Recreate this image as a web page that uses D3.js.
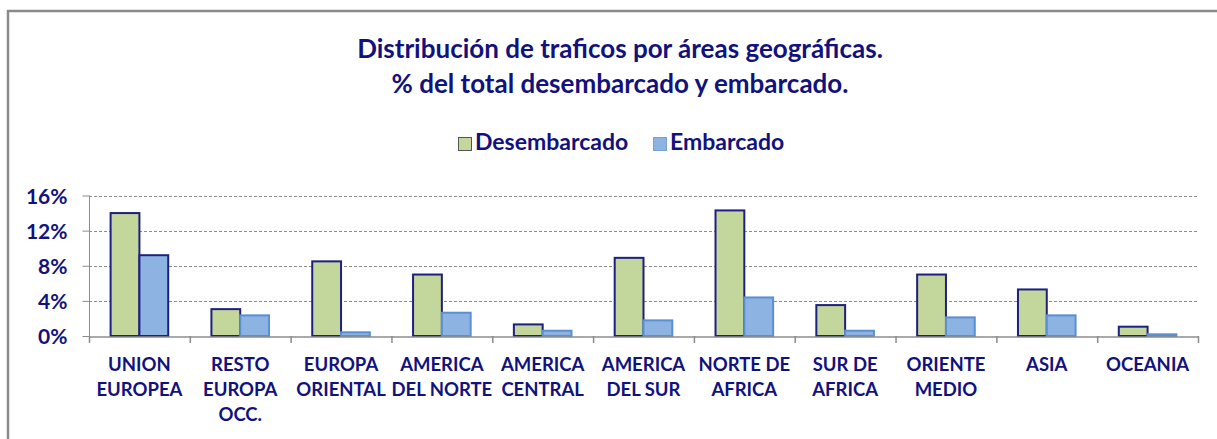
<!DOCTYPE html>
<html><head><meta charset="utf-8">
<script src="https://cdn.jsdelivr.net/npm/d3@7"></script>
<style>
body{margin:0;background:#fff;}
svg{display:block;}
text{font-family:Lato,"Open Sans",sans-serif;font-weight:bold;fill:#12127d;}
</style></head><body>
<svg id="c" width="1217" height="439"></svg>
<script>
const categories = ["UNION\nEUROPEA","RESTO\nEUROPA\nOCC.","EUROPA\nORIENTAL","AMERICA\nDEL NORTE","AMERICA\nCENTRAL","AMERICA\nDEL SUR","NORTE DE\nAFRICA","SUR DE\nAFRICA","ORIENTE\nMEDIO","ASIA","OCEANIA"];
const desembarcado = [14.0, 3.06, 8.5, 7.0, 1.32, 8.9, 14.3, 3.52, 7.0, 5.3, 1.06];
const embarcado = [9.2, 2.35, 0.42, 2.65, 0.6, 1.78, 4.39, 0.6, 2.12, 2.35, 0.19];
const seriesNames = ["Desembarcado","Embarcado"];
const yTicks = [0, 4, 8, 12, 16];
const titleLines = ["Distribución de traficos por áreas geográficas.","% del total desembarcado y embarcado."];

const svg = d3.select("#c");
const fills = ["#c3d69b","#8db3e2"];
const strokes = ["#1f1f80","#5a8fd3"];
const navy = "#12127d";

// outer frame
svg.append("rect").attr("x",8).attr("y",11).attr("width",1230).attr("height",460)
  .attr("fill","none").attr("stroke","#8a8a8a").attr("stroke-width",2.5);

const L = 89, R = 1198, T = 195.5, B = 336;
const x = d3.scaleBand().domain(categories).range([L,R]).paddingInner(0).paddingOuter(0);
const x1 = d3.scaleBand().domain(seriesNames).range([0,x.bandwidth()]).paddingInner(0).paddingOuter(0.75);
const y = d3.scaleLinear().domain([0,16]).range([B,T]);

// gridlines
svg.append("g").selectAll("line").data(yTicks.filter(d=>d>0)).join("line")
  .attr("x1",L).attr("x2",R).attr("y1",d=>Math.round(y(d))+0.5).attr("y2",d=>Math.round(y(d))+0.5)
  .attr("stroke","#8c8c8c").attr("stroke-width",1).attr("stroke-dasharray","3,2");

// y axis
const yAxis = d3.axisLeft(y).tickValues(yTicks).tickSize(7).tickFormat(d=>d+"%");
const gy = svg.append("g").attr("transform",`translate(${L+0.5},0)`).call(yAxis);
gy.select(".domain").attr("stroke","#8c8c8c").attr("d",`M0,${T}V${B}`);
gy.selectAll(".tick line").attr("stroke","#8c8c8c");
gy.selectAll(".tick text").attr("x",-22).attr("dy","0.36em").style("font-size","21px").style("font-family","Lato, sans-serif").style("font-weight","bold").attr("fill",navy);

// bars
const data = categories.map((c,i)=>({c, vals:[desembarcado[i], embarcado[i]]}));
const g = svg.append("g");
data.forEach((d,i)=>{
  d.vals.forEach((v,j)=>{
    g.append("rect")
      .attr("x", x(d.c)+x1(seriesNames[j]))
      .attr("y", y(v))
      .attr("width", x1.bandwidth())
      .attr("height", B - y(v))
      .attr("fill", fills[j])
      .attr("stroke", (j===0 || i===0) ? strokes[0] : strokes[1])
      .attr("stroke-width", 2);
  });
});

// x axis
const xAxis = d3.axisBottom(x).tickSize(0).tickFormat("");
const gx = svg.append("g").attr("transform",`translate(0,${B+0.5})`).call(xAxis);
gx.select(".domain").attr("stroke","#8c8c8c").attr("stroke-width",1.5);
const bounds = categories.map(c=>x(c)).concat([R]);
svg.append("g").selectAll("line").data(bounds).join("line")
  .attr("x1",d=>d+0.5).attr("x2",d=>d+0.5).attr("y1",B).attr("y2",B+7)
  .attr("stroke","#8c8c8c").attr("stroke-width",1.5);

// category labels
const lab = svg.append("g");
categories.forEach(c=>{
  const t = lab.append("text").attr("text-anchor","middle").style("font-size","18.5px");
  c.split("\n").forEach((ln,k)=>{
    t.append("tspan").attr("x", x(c)+x.bandwidth()/2).attr("y", 371 + k*25).text(ln);
  });
});

// title
titleLines.forEach((ln,k)=>{
  svg.append("text").attr("x",620).attr("y",58+k*35).attr("text-anchor","middle")
    .style("font-size","26px").text(ln);
});

// legend
const legX = [458, 653];
seriesNames.forEach((s,j)=>{
  svg.append("rect").attr("x",legX[j]+0.5).attr("y",137.5).attr("width",13).attr("height",13)
    .attr("fill",fills[j]).attr("stroke", j===0 ? "#555" : "#7aa0d0").attr("stroke-width",1);
  svg.append("text").attr("x",legX[j]+17).attr("y",150).style("font-size","23px").text(s);
});
</script>
</body></html>
